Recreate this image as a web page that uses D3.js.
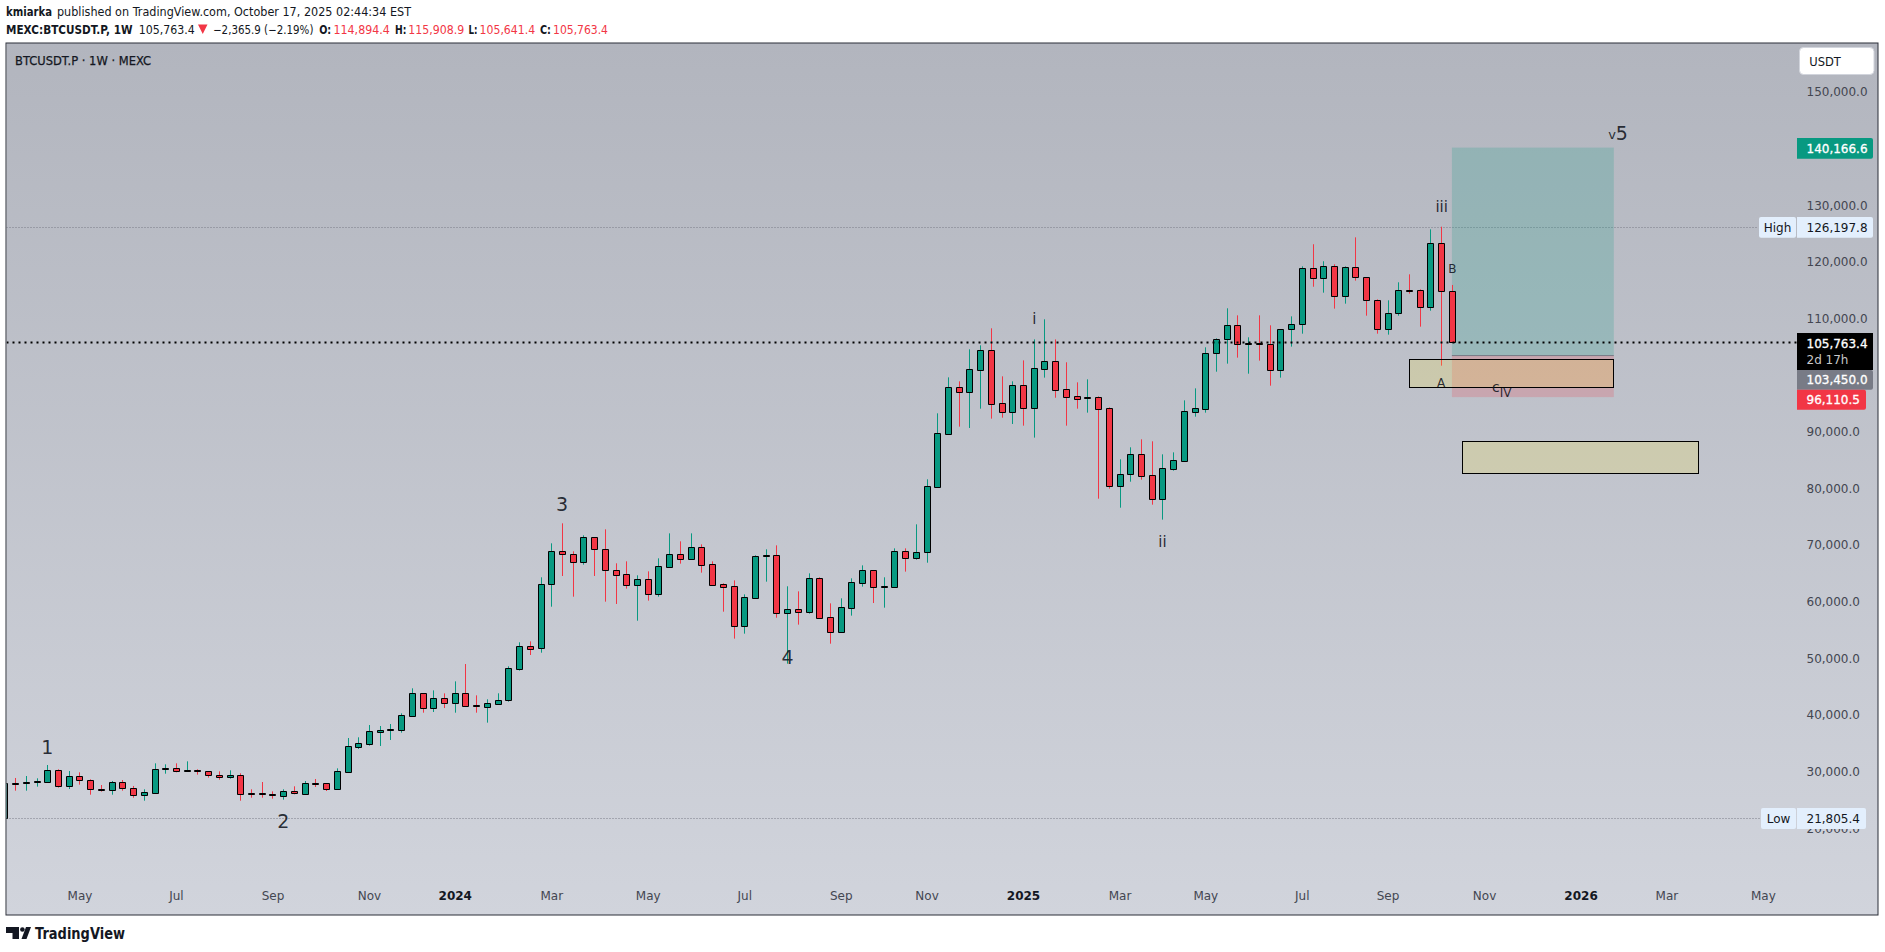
<!DOCTYPE html>
<html>
<head>
<meta charset="utf-8">
<script src="https://cdn.jsdelivr.net/npm/d3@7/dist/d3.min.js"></script>
<style>
  html, body { margin: 0; padding: 0; background: #fff; overflow: hidden; }
  svg { display: block; }
  text { font-family: "DejaVu Sans", sans-serif; }
</style>
</head>
<body>
<div id="chart"></div>
<script>
// weekly candles, prices in USDT. first one is cut by the left edge
const opens = [21805,27980,27920,28220,28220,30220,27510,29160,28460,26930,26690,28100,27040,25920,26280,30520,30580,30160,30280,30040,29340,28980,29340,26220,26220,26040,25750,26510,26100,27980,27930,26980,29990,34400,34930,37050,37400,37400,39870,43810,41280,42930,42170,43810,41760,41460,42000,42580,48170,52110,51760,63060,68890,68360,67060,71360,69240,65530,64820,63000,63940,61410,66180,68360,67590,69590,66590,63060,62710,55760,60700,68120,68180,58060,58650,58230,64120,57230,54700,58940,63350,65530,62650,62650,68890,67770,68710,80300,89660,97840,97070,100960,104370,95010,93540,98190,94250,101140,102430,97490,96250,95960,96070,94130,80480,82480,86010,82300,78180,83480,84890,93540,94070,103840,106310,108790,105550,105670,105430,100840,108080,108960,118850,117080,119200,113920,119020,117260,113200,108080,110900,115020,114960,111960,123260,114894.4];
const highs = [28500,28870,29220,28810,31160,30400,30100,29870,28630,27630,28340,28510,27460,26870,31460,31280,31460,31810,30400,30040,30040,30220,29690,26870,28160,26510,26870,27400,28340,28690,27930,30570,35930,36050,38220,38050,38400,40280,44700,43810,44340,43810,45930,48990,43460,42760,43820,48580,52820,52990,64300,70300,73830,68890,71710,71360,72770,66770,67120,64650,65350,67650,72060,70650,72060,70120,67120,63240,63760,61290,68180,69240,69940,62710,61820,65000,64300,59700,60590,64120,66410,65530,64300,69410,69410,73650,81600,93250,99600,98900,104550,105250,108260,99780,98900,102600,106300,109850,106300,102260,98720,99250,96250,94310,85130,87250,88660,88310,86010,86360,95540,97660,104900,106490,111790,110550,106670,110550,108790,108080,110370,119200,123100,120100,119560,119200,124320,117260,113370,113200,116380,117790,115140,125730,126197.8,115908.9];
const lows = [21805,26630,26630,27340,28220,27160,26920,27690,25920,26460,25920,26630,25390,24860,26280,29630,29870,30040,29460,28930,28570,28750,24860,25390,25390,25220,25040,25980,26100,27280,26570,26980,29990,33990,34580,34520,35580,36870,39870,40400,40520,41220,40400,41460,40400,38640,41760,42340,47820,50580,50990,59110,64530,60880,66530,64530,60000,59590,62300,56640,60180,60880,66000,66710,67590,65120,63000,58230,53470,54350,60700,63530,57170,49050,55940,57880,57170,52580,54700,57530,62650,59760,58940,62470,65300,67410,66880,80300,89420,90900,90660,94070,92310,92480,91370,91070,88960,99550,96000,91070,94070,93370,78180,79950,76590,81180,81540,77120,74480,83130,84890,92660,93370,100600,102020,103080,100250,102550,98130,99550,105020,107310,115600,114550,111730,112610,116670,110490,107310,107140,110490,114380,108550,111370,101660,105641.4];
const closes = [27980,27870,28100,28340,30220,27510,29160,28460,26870,26810,28100,27040,25920,26340,30400,30630,30040,30280,30160,29340,28980,29340,26100,26100,26100,25920,26510,26160,27930,27870,26980,30040,34460,34990,37110,37280,37520,39930,43810,41280,42930,42170,43810,41640,41640,42050,42580,48230,52110,51700,63060,68890,68360,67060,71360,69240,65530,64770,63000,63940,61410,66240,68360,67590,69590,66530,63000,62650,55760,60760,68000,68240,58060,58650,58230,64120,57170,54700,59000,63410,65530,62650,62760,68890,67770,68710,80360,89720,97840,97070,101000,104370,94960,93540,98190,94250,101200,102430,97430,96190,95840,96070,94070,80480,82480,86010,82240,78180,83540,84950,93600,94130,103840,106310,108790,105430,105670,105550,100840,108080,108960,118850,117080,119200,113920,119020,117260,113200,108080,110900,114960,114900,111960,123260,114790,105763.4];

// price labels and what is drawn on top of the candles
const priceTicks = [20000,30000,40000,50000,60000,70000,80000,90000,110000,120000,130000,150000];
const weekTicks = [7,16,25,34,42,51,60,69,78,86,95,104,112,121,129,138,147,155,164];
const weekLabels = ["May","Jul","Sep","Nov","2024","Mar","May","Jul","Sep","Nov","2025","Mar","May","Jul","Sep","Nov","2026","Mar","May"];
const highPrice = 126197.8, lowPrice = 21805.4, lastPrice = 105763.4;
const entryPrice = 103450, targetPrice = 140166.6, stopPrice = 96110.5;
const positionWeeks = [135, 150.1];
const zones = [{ from: 131, to: 150, top: 102790, bottom: 97840 }, { from: 136, to: 158, top: 88240, bottom: 82660 }];
const waveLabels = ["1","2","3","4","5","v","i","ii","iii","B","A","c","IV"];
const waveWeeks = [4,26,52,73.05,150.85,149.95,96.05,108,134.05,135.05,134,139.1,140];
const wavePrices = [33190,20070,75920,49080,141490,141630,109020,69600,128740,117970,97840,96960,96080];
const waveSizes = [19,19,19,19,19,13,15,15,15,12,12,14,12];

const width = 1885, height = 952;
const plot = { left: 6.5, right: 1878, top: 43, bottom: 915 };

const x = d3.scaleLinear().domain([0, 135]).range([4.4, 1451.9]);
const y = d3.scaleLinear().domain([21805.4, 126197.8]).range([818, 226.7]);

const svg = d3.select("#chart").append("svg").attr("width", width).attr("height", height);

const grad = svg.append("defs").append("linearGradient").attr("id", "bg").attr("x2", 0).attr("y2", 1);
grad.append("stop").attr("offset", 0).attr("stop-color", "#b2b5be");
grad.append("stop").attr("offset", 1).attr("stop-color", "#d1d4dc");
svg.select("defs").append("clipPath").attr("id", "plotClip").append("rect")
    .attr("x", plot.left).attr("y", plot.top)
    .attr("width", plot.right - plot.left).attr("height", plot.bottom - plot.top);

svg.append("rect")
    .attr("x", plot.left).attr("y", plot.top)
    .attr("width", plot.right - plot.left).attr("height", plot.bottom - plot.top)
    .attr("fill", "url(#bg)");

// header lines
function headText(str, left, wide, top, color, weight) {
    return svg.append("text")
        .attr("x", left).attr("y", top)
        .attr("font-size", 12).attr("font-weight", weight || 400).attr("fill", color)
        .attr("textLength", wide).attr("lengthAdjust", "spacingAndGlyphs")
        .text(str);
}
const dark = "#131722", down = "#f23645";
headText("kmiarka", 6, 46, 16, dark, 700);
headText("published on TradingView.com, October 17, 2025 02:44:34 EST", 57, 354, 16, dark);
headText("MEXC:BTCUSDT.P, 1W", 6, 126.5, 33.5, dark, 700);
headText("105,763.4", 138.8, 56, 33.5, dark);
svg.append("path").attr("d", "M198 24.5h9.5l-4.75 9.5z").attr("fill", down);
headText("\u22122,365.9 (\u22122.19%)", 213, 100.4, 33.5, dark);
headText("O:", 319.2, 12, 33.5, dark, 700);
headText("114,894.4", 333.5, 56.3, 33.5, down);
headText("H:", 395, 11.4, 33.5, dark, 700);
headText("115,908.9", 408.2, 56, 33.5, down);
headText("L:", 468.6, 9, 33.5, dark, 700);
headText("105,641.4", 479.6, 55.5, 33.5, down);
headText("C:", 540, 11, 33.5, dark, 700);
headText("105,763.4", 553, 55, 33.5, down);
headText("BTCUSDT.P \u00b7 1W \u00b7 MEXC", 15, 136, 64.5, dark).attr("stroke", dark).attr("stroke-width", 0.25);

const chart = svg.append("g").attr("clip-path", "url(#plotClip)");

// high / low lines
chart.selectAll(".hl").data([[highPrice, 1757], [lowPrice, 1760]]).enter().append("line")
    .attr("x1", plot.left).attr("x2", d => d[1])
    .attr("y1", d => Math.round(y(d[0])) + 0.5).attr("y2", d => Math.round(y(d[0])) + 0.5)
    .attr("stroke", "#787b86").attr("stroke-width", 1).attr("stroke-dasharray", "1 2");

// long position box
chart.append("rect")
    .attr("x", x(positionWeeks[0])).attr("width", x(positionWeeks[1]) - x(positionWeeks[0]))
    .attr("y", y(targetPrice)).attr("height", y(entryPrice) - y(targetPrice))
    .attr("fill", "#089981").attr("fill-opacity", 0.2);
chart.append("rect")
    .attr("x", x(positionWeeks[0])).attr("width", x(positionWeeks[1]) - x(positionWeeks[0]))
    .attr("y", y(entryPrice)).attr("height", y(stopPrice) - y(entryPrice))
    .attr("fill", "#f23645").attr("fill-opacity", 0.2);
chart.append("line")
    .attr("x1", x(positionWeeks[0])).attr("x2", x(positionWeeks[1]))
    .attr("y1", y(entryPrice)).attr("y2", y(entryPrice))
    .attr("stroke", "#787b86").attr("stroke-width", 1);

// candles
const idx = d3.range(opens.length);
const candle = chart.selectAll(".candle").data(idx).enter().append("g").attr("class", "candle");
const colorOf = i => closes[i] >= opens[i] ? "#089981" : "#f23645";
candle.append("line")
    .attr("x1", i => Math.round(x(i)) + 0.5).attr("x2", i => Math.round(x(i)) + 0.5)
    .attr("y1", i => y(highs[i])).attr("y2", i => y(lows[i]))
    .attr("stroke", colorOf);
candle.append("path")
    .attr("d", i => {
        const left = Math.round(x(i)) - 2.5;
        const top = Math.round(y(Math.max(opens[i], closes[i]))) + 0.5;
        const bot = Math.round(y(Math.min(opens[i], closes[i]))) + 0.5;
        return `M${left},${top}h6V${bot}h-6Z`;
    })
    .attr("fill", colorOf).attr("stroke", "#000").attr("stroke-width", 1);

// supply / demand zones
chart.selectAll(".zone").data(zones).enter().append("rect")
    .attr("x", d => Math.floor(x(d.from)) + 0.5).attr("width", d => Math.round(x(d.to) - x(d.from)))
    .attr("y", d => Math.floor(y(d.top)) + 0.5).attr("height", d => Math.round(y(d.bottom) - y(d.top)))
    .attr("fill", "#ffeb3b").attr("fill-opacity", 0.2)
    .attr("stroke", "#000").attr("stroke-width", 1);

// last price line
chart.append("line")
    .attr("x1", plot.left).attr("x2", 1797)
    .attr("y1", y(lastPrice)).attr("y2", y(lastPrice))
    .attr("stroke", "#000").attr("stroke-width", 2).attr("stroke-dasharray", "2 4");

// elliott wave counts
chart.selectAll(".wave").data(waveLabels).enter().append("text")
    .attr("x", (d, i) => x(waveWeeks[i])).attr("y", (d, i) => y(wavePrices[i]))
    .attr("text-anchor", "middle")
    .attr("font-family", "Open Sans")
    .attr("font-size", (d, i) => waveSizes[i])
    .attr("fill", "#131722").attr("fill-opacity", 0.9)
    .text(d => d);

// price axis
const yAxis = svg.append("g").attr("transform", "translate(1806.5,0)")
    .call(d3.axisRight(y).tickValues(priceTicks).tickFormat(d3.format(",.1f")).tickSize(0).tickPadding(0));
yAxis.select(".domain").remove();
yAxis.selectAll("text").attr("font-size", 12).attr("font-family", "DejaVu Sans").attr("fill", "#434651").attr("dy", "0.32em");

// time axis
const xAxis = svg.append("g").attr("transform", "translate(0,891)")
    .call(d3.axisBottom(x).tickValues(weekTicks).tickFormat((d, i) => weekLabels[i]).tickSize(0).tickPadding(0));
xAxis.select(".domain").remove();
xAxis.selectAll("text")
    .attr("font-size", 12).attr("font-family", "DejaVu Sans").attr("fill", "#434651").attr("dy", "0.71em")
    .filter((d, i) => /^\d+$/.test(weekLabels[i]))
    .attr("font-weight", 700).attr("fill", "#131722");

// price axis badges
function badge(left, right, top, bottom, color, str, textColor) {
    svg.append("path")
        .attr("d", `M${left},${top}H${right - 2}q2,0 2,2V${bottom - 2}q0,2 -2,2H${left}Z`)
        .attr("fill", color);
    const t = svg.append("text").attr("x", 1806.5).attr("y", (top + bottom) / 2).attr("dy", "0.36em")
        .attr("font-size", 12).attr("fill", textColor).text(str);
    if (textColor === "#fff") t.attr("stroke", "#fff").attr("stroke-width", 0.3);
}
const fmt = d3.format(",.1f");
badge(1797, 1873, 138, 158.7, "#089981", fmt(targetPrice), "#fff");
svg.append("rect").attr("x", 1759).attr("y", 217).attr("width", 37).attr("height", 20.7).attr("rx", 2).attr("fill", "#e3effd");
svg.append("text").attr("x", 1777.5).attr("y", 227.4).attr("dy", "0.36em").attr("text-anchor", "middle").attr("font-size", 12).attr("fill", "#131722").text("High");
badge(1797, 1873, 217, 237.7, "#e3effd", fmt(highPrice), "#131722");
svg.append("rect").attr("x", 1761).attr("y", 808).attr("width", 35).attr("height", 21).attr("rx", 2).attr("fill", "#e3effd");
svg.append("text").attr("x", 1778.5).attr("y", 818.5).attr("dy", "0.36em").attr("text-anchor", "middle").attr("font-size", 12).attr("fill", "#131722").text("Low");
badge(1797, 1866, 808, 829, "#e3effd", fmt(lowPrice), "#131722");
badge(1797, 1873, 370, 389.7, "#787b86", fmt(entryPrice), "#fff");
badge(1797, 1866, 389.7, 409.7, "#f23645", fmt(stopPrice), "#fff");
svg.append("rect").attr("x", 1797).attr("y", 333).attr("width", 76).attr("height", 37).attr("fill", "#000");
svg.append("text").attr("x", 1806.5).attr("y", 347.6).attr("font-size", 12).attr("fill", "#fff")
    .attr("stroke", "#fff").attr("stroke-width", 0.3).text(fmt(lastPrice));
svg.append("text").attr("x", 1806.5).attr("y", 363.6).attr("font-size", 12).attr("fill", "#c8c8c8").text("2d 17h");

// USDT button
svg.append("rect").attr("x", 1799.5).attr("y", 47.5).attr("width", 74.5).attr("height", 27).attr("rx", 4)
    .attr("fill", "#fff").attr("stroke", "#d1d4dc");
svg.append("text").attr("x", 1809.3).attr("y", 66).attr("font-size", 11.5).attr("fill", "#131722").text("USDT");

// frame
svg.append("rect")
    .attr("x", plot.left - 0.5).attr("y", plot.top)
    .attr("width", plot.right - plot.left + 0.5).attr("height", plot.bottom - plot.top)
    .attr("fill", "none").attr("stroke", "#2a2e39").attr("stroke-width", 1);

// tradingview logo
svg.append("path").attr("d", "M6 927h13v12h-6.5v-6H6Z").attr("fill", "#131722");
svg.append("circle").attr("cx", 22.4).attr("cy", 929.5).attr("r", 2.3).attr("fill", "#131722");
svg.append("path").attr("d", "M21.5 939L26 927h5L26.5 939Z").attr("fill", "#131722");
svg.append("text").attr("x", 35).attr("y", 939)
    .attr("font-family", "Inter").attr("font-size", 15.5).attr("font-weight", 600).attr("fill", "#131722")
    .attr("textLength", 90).attr("lengthAdjust", "spacingAndGlyphs").text("TradingView");
</script>
</body>
</html>
